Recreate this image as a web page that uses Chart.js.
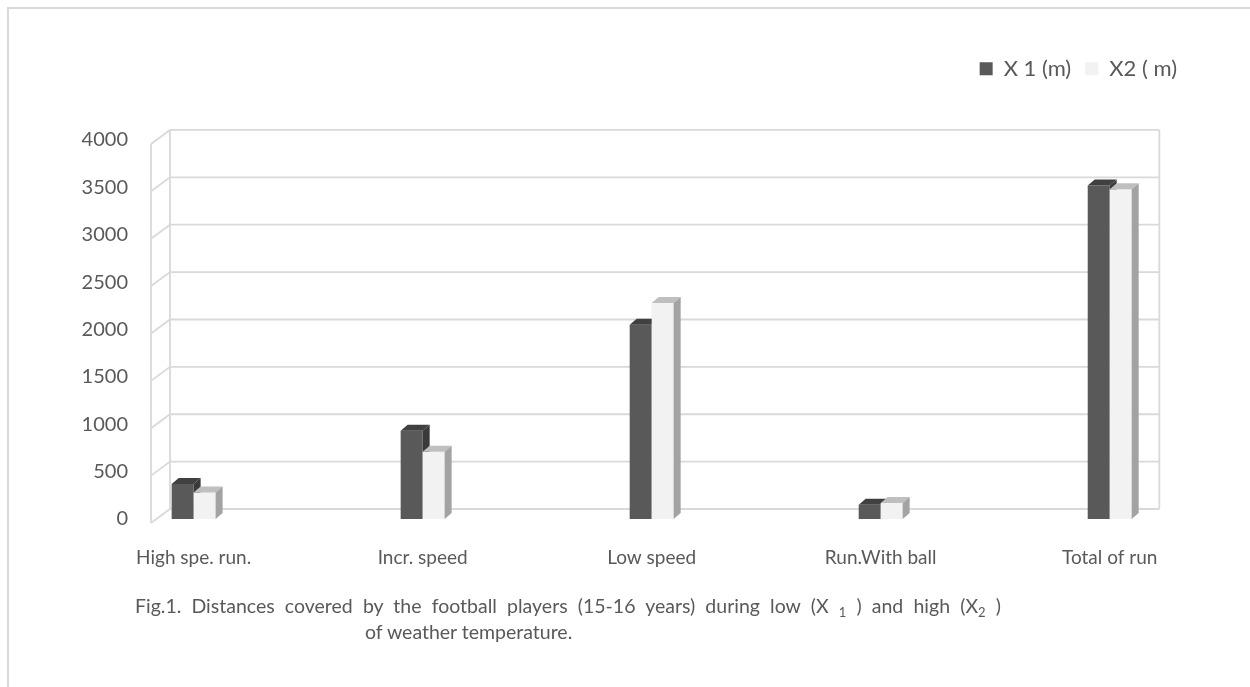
<!DOCTYPE html>
<html>
<head>
<meta charset="utf-8">
<script src="https://cdn.jsdelivr.net/npm/chart.js@4.4.1/dist/chart.umd.min.js"></script>
<style>
  body { margin: 0; background: #fff; overflow: hidden; }
  #marco { position: absolute; left: 7px; top: 7px; width: 1300px; height: 700px;
           border-left: 2px solid #d9d9d9; border-top: 2px solid #d9d9d9; }
  #caja { position: absolute; left: 0; top: 0; width: 1250px; height: 687px; }
  .pie { position: absolute; font-family: Lato, sans-serif; font-size: 19.5px; color: #595959;
         white-space: nowrap; line-height: 26px; }
  .pie sub { font-size: 13px; vertical-align: -4px; line-height: 0; }
  #linea1 { width: 866px; text-align: justify; text-align-last: justify; }
</style>
</head>
<body>
<div id="marco"></div>
<div id="caja"><canvas id="grafico"></canvas></div>
<div class="pie" id="linea1" style="left:135px; top:593px;">Fig.1. Distances covered by the football players (15-16 years) during low (X <sub>1</sub> ) and high (X<sub>2</sub> )</div>
<div class="pie" style="left:365px; top:619px;">of weather temperature.</div>
<script>
const categorias = ["High spe. run.", "Incr. speed", "Low speed", "Run.With ball", "Total of run"];
const serieX1 = [370, 930, 2050, 150, 3520];
const serieX2 = [280, 710, 2280, 170, 3480];
const ticksY = [0, 500, 1000, 1500, 2000, 2500, 3000, 3500, 4000];
const nombres = ["X 1 (m)", "X2 ( m)"];

// colores: frente, tapa, lado
const frentes = ["#595959", "#f2f2f2"];
const tapas = ["#404040", "#bfbfbf"];
const lados = ["#3a3a3a", "#a3a3a3"];

const fondoProf = { dx: 7, dy: -6 };     // profundidad de cada barra
const pared = { dx: 13, dy: -10 };       // pared del fondo
const borde = { dx: -6, dy: 4 };         // arista delantera
const margenCat = 0.16;

const texto = "#595959";

function caras(ctx, barra, i) {
  const { x, y, width, base } = barra.getProps(["x", "y", "width", "base"], true);
  const l = x - width / 2, r = x + width / 2;
  ctx.fillStyle = tapas[i];
  ctx.beginPath();
  ctx.moveTo(l, y);
  ctx.lineTo(l + fondoProf.dx, y + fondoProf.dy);
  ctx.lineTo(r + fondoProf.dx, y + fondoProf.dy);
  ctx.lineTo(r, y);
  ctx.closePath();
  ctx.fill();
  ctx.fillStyle = lados[i];
  ctx.beginPath();
  ctx.moveTo(r, y);
  ctx.lineTo(r + fondoProf.dx, y + fondoProf.dy);
  ctx.lineTo(r + fondoProf.dx, base + fondoProf.dy);
  ctx.lineTo(r, base);
  ctx.closePath();
  ctx.fill();
}

// caja 3D: pared del fondo con rejilla, y caras de las barras
const caja3d = {
  id: "caja3d",
  beforeDatasetsDraw(chart) {
    const ctx = chart.ctx;
    const ex = chart.scales.x, ey = chart.scales.y;
    const xi = ex.getPixelForValue(-margenCat);
    const xd = ex.getPixelForValue(categorias.length - 1 + margenCat);
    const arriba = ey.getPixelForValue(ticksY[ticksY.length - 1]);
    const abajo = ey.getPixelForValue(0);
    ctx.save();
    ctx.strokeStyle = "#d9d9d9";
    ctx.lineWidth = 1.8;
    ctx.beginPath();
    ticksY.forEach(v => {
      const py = ey.getPixelForValue(v);
      ctx.moveTo(xi + borde.dx, py + borde.dy);
      ctx.lineTo(xi + pared.dx, py + pared.dy);
      ctx.lineTo(xd + pared.dx, py + pared.dy);
    });
    ctx.moveTo(xi + pared.dx, arriba + pared.dy);
    ctx.lineTo(xi + pared.dx, abajo + pared.dy);
    ctx.moveTo(xd + pared.dx, arriba + pared.dy);
    ctx.lineTo(xd + pared.dx, abajo + pared.dy);
    ctx.moveTo(xi + borde.dx, arriba + borde.dy);
    ctx.lineTo(xi + borde.dx, abajo + borde.dy);
    ctx.stroke();
    ctx.restore();
  },
  afterDatasetsDraw(chart) {
    const ctx = chart.ctx;
    const m1 = chart.getDatasetMeta(0), m2 = chart.getDatasetMeta(1);
    ctx.save();
    m1.data.forEach((b1, k) => {
      caras(ctx, b1, 0);
      const b2 = m2.data[k];
      b2.draw(ctx);          // la segunda barra tapa el lado de la primera
      caras(ctx, b2, 1);
    });
    ctx.restore();
  }
};

function armarDatos(valores) {
  return valores.map((v, i) => ({ x: i, y: v }));
}

const ctx = document.getElementById("grafico").getContext("2d");
const grafico = new Chart(ctx, {
  type: "bar",
  data: {
    datasets: [
      { label: nombres[0], data: armarDatos(serieX1), backgroundColor: frentes[0], borderWidth: 0 },
      { label: nombres[1], data: armarDatos(serieX2), backgroundColor: frentes[1], borderWidth: 0 }
    ]
  },
  options: {
    responsive: true,
    maintainAspectRatio: false,
    animation: false,
    layout: { padding: { left: 0, right: 59, top: 43.75, bottom: 0 } },
    datasets: { bar: { categoryPercentage: 0.192, barPercentage: 1 } },
    scales: {
      x: {
        type: "linear",
        offset: false,
        min: -margenCat,
        max: 4.355,
        grid: { display: false, offset: false },
        border: { display: false },
        afterBuildTicks: s => { s.ticks = categorias.map((c, i) => ({ value: i })); },
        afterFit: s => { s.height = 168; },
        ticks: {
          color: texto,
          font: { family: "Lato", size: 19 },
          padding: 19,
          maxRotation: 0,
          autoSkip: false,
          callback: v => categorias[v]
        }
      },
      y: {
        min: 0,
        max: 4000,
        grid: { display: false },
        border: { display: false },
        afterFit: s => { s.width = 157; },
        afterBuildTicks: s => { s.ticks = ticksY.map(v => ({ value: v })); },
        ticks: {
          color: texto,
          font: { family: "Lato", size: 20 },
          padding: 21,
          callback: v => String(v)
        }
      }
    },
    plugins: {
      legend: {
        position: "top",
        align: "end",
        labels: {
          color: texto,
          font: { family: "Lato", size: 22 },
          boxWidth: 13,
          boxHeight: 13,
          padding: 14
        }
      },
      subtitle: {
        display: true,
        text: "",
        position: "top",
        weight: 500,
        font: { size: 1 },
        padding: { top: 0, bottom: 49 }
      },
      tooltip: { enabled: false }
    }
  },
  plugins: [caja3d]
});
</script>
</body>
</html>
